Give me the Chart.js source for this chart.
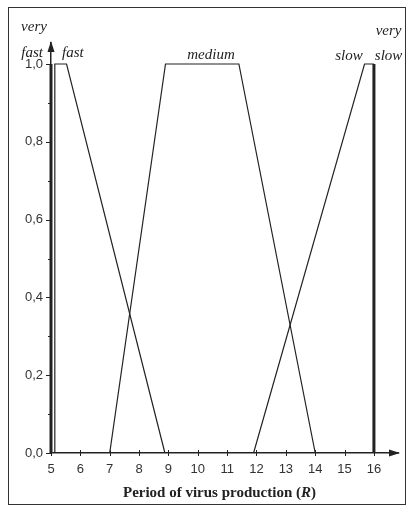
<!DOCTYPE html>
<html>
<head>
<meta charset="utf-8">
<script src="https://cdn.jsdelivr.net/npm/chart.js@4.4.1/dist/chart.umd.min.js"></script>
<style>
  html, body { margin: 0; padding: 0; background: #fff; }
  #wrap { width: 414px; height: 512px; position: relative; }
</style>
</head>
<body>
<div id="wrap"><canvas id="c" width="414" height="512"></canvas></div>
<script>
// Fuzzy membership functions for the period of virus production (R)
const xTicks = [5, 6, 7, 8, 9, 10, 11, 12, 13, 14, 15, 16];
const yTicks = [0, 0.1, 0.2, 0.3, 0.4, 0.5, 0.6, 0.7, 0.8, 0.9, 1.0];

const veryFastX = [5, 5];
const veryFastY = [0, 1];
const fastX = [5.13, 5.13, 5.53, 8.88];
const fastY = [0, 1, 1, 0];
const mediumX = [7.0, 8.9, 11.4, 14.0];
const mediumY = [0, 1, 1, 0];
const slowX = [11.9, 15.68, 16];
const slowY = [0, 1, 1];
const verySlowX = [16, 16];
const verySlowY = [0, 1];

const INK = '#222';
const SERIF = '"Liberation Serif", "Times New Roman", serif';
const SANS = '"Liberation Sans", Arial, sans-serif';

function pts(xs, ys) { return xs.map((v, i) => ({ x: v, y: ys[i] })); }
function set(xs, ys, width) {
  return {
    data: pts(xs, ys),
    borderColor: INK,
    borderWidth: width,
    pointRadius: 0,
    tension: 0,
    fill: false,
    clip: false
  };
}

const decor = {
  id: 'decor',
  afterDraw(chart) {
    const { ctx, scales: { x, y }, chartArea: a } = chart;
    const x0 = x.getPixelForValue(5);
    const y0 = y.getPixelForValue(0);
    ctx.save();
    ctx.strokeStyle = INK;
    ctx.fillStyle = INK;
    ctx.lineWidth = 1;

    // tick marks
    ctx.beginPath();
    xTicks.forEach(v => {
      const px = Math.round(x.getPixelForValue(v)) + 0.5;
      ctx.moveTo(px, y0 - 3);
      ctx.lineTo(px, y0 + 3);
    });
    yTicks.forEach((v, i) => {
      const py = Math.round(y.getPixelForValue(v)) + 0.5;
      const len = i % 2 === 0 ? 5 : 3;
      ctx.moveTo(x0 - len, py);
      ctx.lineTo(x0, py);
    });
    ctx.stroke();

    // axis arrowheads
    ctx.beginPath();
    ctx.moveTo(x0, a.top - 2);
    ctx.lineTo(x0 - 3.5, a.top + 9);
    ctx.lineTo(x0 + 3.5, a.top + 9);
    ctx.closePath();
    ctx.fill();
    ctx.beginPath();
    ctx.moveTo(a.right + 2, y0);
    ctx.lineTo(a.right - 9, y0 - 3.5);
    ctx.lineTo(a.right - 9, y0 + 3.5);
    ctx.closePath();
    ctx.fill();

    // set names
    const top = y.getPixelForValue(1);
    ctx.font = 'italic 15px ' + SERIF;
    ctx.textBaseline = 'alphabetic';
    ctx.textAlign = 'center';
    ctx.fillText('very', x0 - 17, top - 33);
    ctx.textAlign = 'right';
    ctx.fillText('fast', x0 - 8, top - 7);
    ctx.textAlign = 'left';
    ctx.fillText('fast', x0 + 11, top - 7);
    ctx.textAlign = 'center';
    ctx.fillText('medium', x.getPixelForValue(10.45), top - 5);
    ctx.fillText('slow', x.getPixelForValue(15.15), top - 4);
    ctx.fillText('very', x.getPixelForValue(16.5), top - 29);
    ctx.fillText('slow', x.getPixelForValue(16.5), top - 4);

    // axis title with italic variable
    const parts = [
      ['bold 15px ' + SERIF, 'Period of virus production ('],
      ['bold italic 15px ' + SERIF, 'R'],
      ['bold 15px ' + SERIF, ')']
    ];
    let total = 0;
    parts.forEach(p => { ctx.font = p[0]; total += ctx.measureText(p[1]).width; });
    let tx = 219.5 - total / 2;
    ctx.textAlign = 'left';
    parts.forEach(p => { ctx.font = p[0]; ctx.fillText(p[1], tx, 497); tx += ctx.measureText(p[1]).width; });

    // outer frame
    ctx.strokeStyle = '#333';
    ctx.lineWidth = 1;
    ctx.strokeRect(8.5, 7.5, 397, 497);
    ctx.restore();
  }
};

new Chart(document.getElementById('c'), {
  type: 'line',
  data: {
    datasets: [
      set(veryFastX, veryFastY, 3),
      set(fastX, fastY, 1.2),
      set(mediumX, mediumY, 1.2),
      set(slowX, slowY, 1.2),
      set(verySlowX, verySlowY, 3)
    ]
  },
  options: {
    responsive: false,
    animation: false,
    events: [],
    layout: { padding: { left: 0, top: 43, right: 16, bottom: 0 } },
    plugins: { legend: { display: false }, tooltip: { enabled: false } },
    scales: {
      x: {
        type: 'linear',
        min: 5,
        max: 16.82,
        afterBuildTicks: s => { s.ticks = xTicks.map(v => ({ value: v })); },
        afterFit: s => { s.height = 59; },
        grid: { display: true, drawOnChartArea: false, drawTicks: false },
        border: { display: true, color: INK, width: 1.5 },
        ticks: {
          color: '#333',
          font: { family: SANS, size: 13 },
          padding: 9,
          maxRotation: 0,
          autoSkip: false
        }
      },
      y: {
        type: 'linear',
        min: 0,
        max: 1.054,
        afterBuildTicks: s => { s.ticks = yTicks.map(v => ({ value: v })); },
        afterFit: s => { s.width = 51; },
        grid: { display: true, drawOnChartArea: false, drawTicks: false },
        border: { display: true, color: INK, width: 1.5 },
        ticks: {
          color: '#333',
          font: { family: SANS, size: 13 },
          padding: 8,
          autoSkip: false,
          callback: (v) => {
            const k = Math.round(v * 10);
            return k % 2 === 0 ? (k / 10).toFixed(1).replace('.', ',') : '';
          }
        }
      }
    }
  },
  plugins: [decor]
});
</script>
</body>
</html>
